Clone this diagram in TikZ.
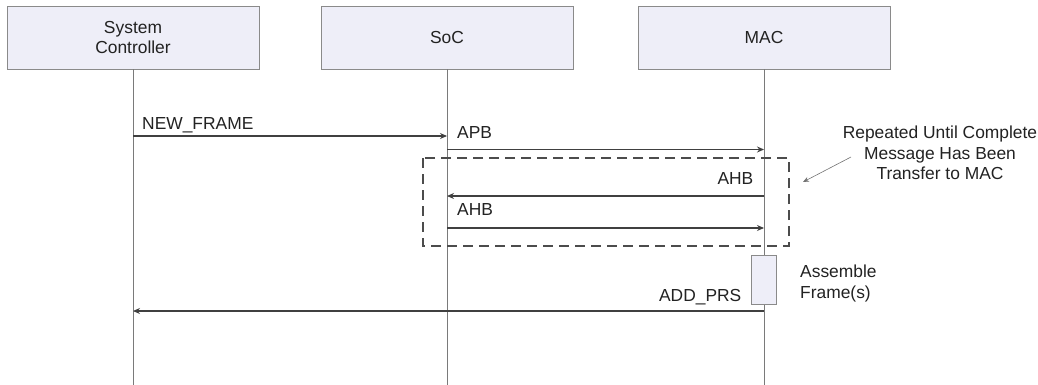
\documentclass[tikz,border=0pt]{standalone}
\usepackage{fontspec}
\setmainfont{Liberation Sans}
\usetikzlibrary{arrows.meta}
\definecolor{boxfill}{HTML}{EEEEF8}
\definecolor{boxline}{HTML}{8A8A8A}
\definecolor{lifeline}{HTML}{7A7A7A}
\definecolor{msg}{HTML}{404040}
\definecolor{txt}{HTML}{222222}
\begin{document}
\begin{tikzpicture}[x=1pt,y=-1pt,
  font=\fontsize{17.4}{20.8}\selectfont,
  actor/.style={draw=boxline,fill=boxfill,line width=0.6pt,minimum width=252pt,minimum height=63pt,inner sep=0pt,align=center,text=txt},
  life/.style={draw=lifeline,line width=0.6pt},
  message/.style={draw=msg,line width=1.1pt,-{Stealth[length=7pt,width=6pt]}},
  lbl/.style={inner sep=0pt,text=txt},
  frame/.style={draw=black!70,line width=1.2pt,dash pattern=on 10pt off 6pt},
  act/.style={draw=boxline,fill=boxfill,line width=0.6pt},
  note/.style={draw=black!55,line width=0.6pt,-{Stealth[length=6pt,width=5pt]}}
]
\useasboundingbox (0,0) rectangle (1038,385);
% actors
\node[actor] (sc)  at (133,37.5) {System\\Controller};
\node[actor] (soc) at (447,37.5) {SoC};
\node[actor] (mac) at (764,37.5) {MAC};
% lifeline ends
\coordinate (scend)  at (133,385);
\coordinate (socend) at (447,385);
\coordinate (macend) at (764,385);
\draw[life] (sc.south) -- (scend);
\draw[life] (soc.south) -- (socend);
\draw[life] (mac.south) -- (macend);
% dashed loop frame
\draw[frame] (423,158) rectangle (789,246);
% activation box
\draw[act] (751,255) rectangle (776,304);
% message anchor points
\coordinate (sc1)  at (133,136);
\coordinate (soc1) at (447,136);
\coordinate (soc2) at (447,149.5);
\coordinate (mac2) at (764,149.5);
\coordinate (mac3) at (764,196);
\coordinate (soc3) at (447,196);
\coordinate (soc4) at (447,228);
\coordinate (mac4) at (764,228);
\coordinate (mac5) at (764,311);
\coordinate (sc5)  at (133,311);
\draw[message] (sc1) -- (soc1);
\draw[message] (soc2) -- (mac2);
\draw[message] (mac3) -- (soc3);
\draw[message] (soc4) -- (mac4);
\draw[message] (mac5) -- (sc5);
% labels
\node[lbl,anchor=base west] (l1) at (142,129) {NEW\_FRAME};
\node[lbl,anchor=base west] (l2) at (457,138.3) {APB};
\node[lbl,anchor=base east] (l3) at (753.5,184) {AHB};
\node[lbl,anchor=base west] (l4) at (457,215) {AHB};
\node[lbl,anchor=base east] (l5) at (741.5,301.7) {ADD\_PRS};
\node[lbl,anchor=north west,align=left] (asm) at (800,264.5) {Assemble\\Frame(s)};
\node[lbl,anchor=north,align=center] (rep) at (940,125.5) {Repeated Until Complete\\Message Has Been\\Transfer to MAC};
\coordinate (nstart) at (851,157);
\coordinate (nend) at (803,182);
\draw[note] (nstart) -- (nend);
\end{tikzpicture}
\end{document}
